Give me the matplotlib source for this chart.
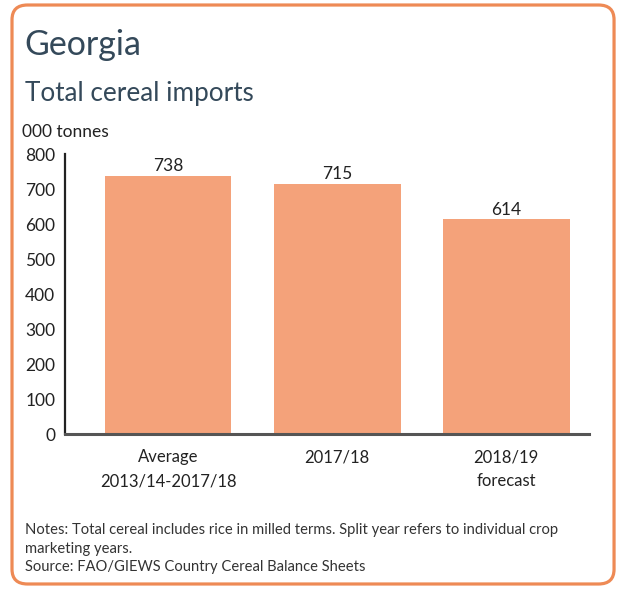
import matplotlib
matplotlib.use('Agg')
import matplotlib.pyplot as plt
from matplotlib.patches import FancyBboxPatch

plt.rcParams['font.family'] = ['Lato', 'DejaVu Sans']

# Cereal import data (000 tonnes)
categories = ['Average\n2013/14-2017/18', '2017/18', '2018/19\nforecast']
imports = [738, 715, 614]
y_ticks = [0, 100, 200, 300, 400, 500, 600, 700, 800]

BAR_COLOR = '#F4A27A'
FRAME_COLOR = '#EE8A55'
TITLE_COLOR = '#34495A'
TEXT_COLOR = '#222222'

fig = plt.figure(figsize=(6.19, 5.89), dpi=100)

# rounded orange frame around the whole panel
frame = FancyBboxPatch((0.0194, 0.0085), 0.9726, 0.983,
                       boxstyle='round,pad=0,rounding_size=0.025',
                       transform=fig.transFigure, facecolor='none',
                       edgecolor=FRAME_COLOR, linewidth=2.3, zorder=-1)
fig.patches.append(frame)

fig.text(0.040, 0.923, 'Georgia', fontsize=24.5, color=TITLE_COLOR, va='center')
fig.text(0.040, 0.842, 'Total cereal imports', fontsize=18.8, color=TITLE_COLOR, va='center')
fig.text(0.036, 0.776, '000 tonnes', fontsize=12.5, color=TEXT_COLOR, va='center')

ax = fig.add_axes([0.105, 0.263, 0.8465, 0.4754])
x = range(len(categories))
bars = ax.bar(x, imports, width=0.75, color=BAR_COLOR)

for bar, val in zip(bars, imports):
    ax.text(bar.get_x() + bar.get_width() / 2, val + 4, str(val),
            ha='center', va='bottom', fontsize=12.5, color=TEXT_COLOR)

ax.set_xlim(-0.61, 2.49)
ax.set_ylim(0, 800)
ax.set_yticks(y_ticks)
ax.set_yticklabels([str(t) for t in y_ticks], fontsize=12.5, color=TEXT_COLOR)
ax.set_xticks(list(x))
ax.set_xticklabels(categories, fontsize=12, color=TEXT_COLOR, linespacing=1.6)
ax.tick_params(axis='both', length=0)
ax.tick_params(axis='y', pad=7)
ax.tick_params(axis='x', pad=11)

for side in ['top', 'right']:
    ax.spines[side].set_visible(False)
ax.spines['left'].set_color(TEXT_COLOR)
ax.spines['left'].set_linewidth(1.6)
ax.spines['bottom'].set_color('#555555')
ax.spines['bottom'].set_linewidth(2.2)
ax.set_facecolor('none')

# footnote lines
footer = [
    'Notes: Total cereal includes rice in milled terms. Split year refers to individual crop',
    'marketing years.',
    'Source: FAO/GIEWS Country Cereal Balance Sheets',
]
for i, line in enumerate(footer):
    fig.text(0.040, 1 - (530 + 18.5 * i) / 589, line, fontsize=10.6, color='#333333', va='center')

fig.savefig('out.png', dpi=100, facecolor='white')
